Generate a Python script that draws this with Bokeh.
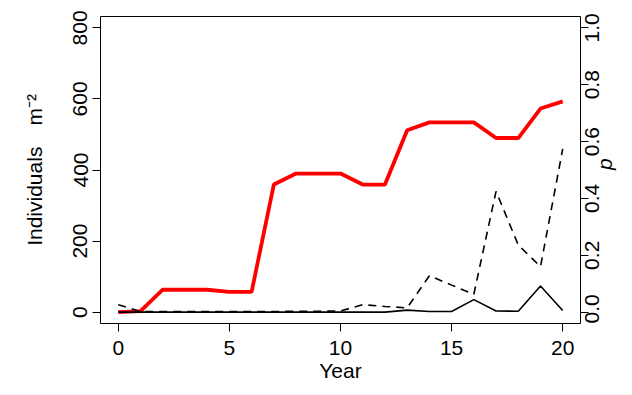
from bokeh.plotting import figure
from bokeh.models import Range1d, LinearAxis, FixedTicker, AllLabels
from bokeh.embed import file_html
from bokeh.resources import INLINE
import math

years = list(range(0, 21))
density = [0, 3, 63, 63, 63, 57, 57, 359, 390, 390, 390, 359, 359, 512, 534, 534, 534, 490, 490, 573, 593]
p_dashed = [0.026, 0.002, 0.002, 0.002, 0.002, 0.002, 0.002, 0.002, 0.003, 0.003, 0.004, 0.026, 0.02, 0.015,
            0.128, 0.095, 0.063, 0.425, 0.236, 0.16, 0.574]
p_solid = [0, 0, 0, 0, 0, 0, 0, 0, 0, 0, 0, 0, 0, 0.007, 0.002, 0.002, 0.044, 0.004, 0.003, 0.092, 0.006]

x_ticks = [0, 5, 10, 15, 20]
y_ticks = [0, 200, 400, 600, 800]
p_ticks = [0.0, 0.2, 0.4, 0.6, 0.8, 1.0]
x_title = "Year"
y_title = "Individuals\u2003m\u207b\u00b2"
p_title = "p"

FONT = "Liberation Sans"
FS = "21px"
P_START, P_END = -0.04, 1.04
FRAME_H = 307
# rotated right-axis labels start at their anchor; shift anchors by half a label's length
half_label = 14.6 * (P_END - P_START) / FRAME_H

p = figure(width=632, height=395, output_backend="svg", toolbar_location=None,
           x_range=Range1d(-0.8, 20.8), y_range=Range1d(-32, 832),
           min_border_left=100, min_border_right=52, min_border_top=16, min_border_bottom=72)
p.extra_y_ranges = {"p": Range1d(P_START, P_END)}
p.grid.visible = False
p.outline_line_color = "black"
p.outline_line_width = 1
p.background_fill_color = "white"
p.border_fill_color = "white"

xax = p.xaxis[0]
lax = p.yaxis[0]

# right axis: tick marks only
tax = LinearAxis(y_range_name="p", ticker=FixedTicker(ticks=p_ticks),
                 major_label_overrides={t: "" for t in p_ticks})
p.add_layout(tax, "right")
# right axis: tick labels (centred on the ticks) and the italic title
anchors = [max(t - half_label, P_START + 0.0001) for t in p_ticks]
rax = LinearAxis(y_range_name="p", ticker=FixedTicker(ticks=anchors),
                 major_label_overrides={a: "%.1f" % t for a, t in zip(anchors, p_ticks)})
p.add_layout(rax, "right")

for ax in [xax, lax, tax, rax]:
    ax.axis_line_color = None
    ax.major_tick_line_color = "black"
    ax.major_tick_in = 0
    ax.major_tick_out = 8
    ax.minor_tick_line_color = None
    ax.major_label_text_font = FONT
    ax.major_label_text_font_size = FS
    ax.major_label_text_color = "black"
    ax.major_label_policy = AllLabels()
    ax.axis_label_text_font = FONT
    ax.axis_label_text_font_size = FS
    ax.axis_label_text_color = "black"
    ax.axis_label_text_font_style = "normal"

xax.ticker = FixedTicker(ticks=x_ticks)
xax.major_label_standoff = 9
xax.axis_label = x_title
xax.axis_label_standoff = 1

lax.ticker = FixedTicker(ticks=y_ticks)
lax.major_label_orientation = "vertical"
lax.major_label_standoff = 5
lax.axis_label = y_title
lax.axis_label_standoff = 25

tax.major_label_text_font_size = "0px"
tax.major_label_standoff = 0

rax.major_tick_out = 0
rax.major_tick_line_color = None
rax.major_label_standoff = 4
rax.major_label_orientation = math.pi / 2
rax.axis_label = p_title
rax.axis_label_text_font_style = "italic"
rax.axis_label_standoff = -5
if "axis_label_orientation" in rax.properties():
    rax.axis_label_orientation = math.pi / 2

p.line(years, density, line_color="#FF0000", line_width=3.8)
p.line(years, p_dashed, y_range_name="p", line_color="black", line_width=1.6, line_dash="8 6")
p.line(years, p_solid, y_range_name="p", line_color="black", line_width=1.6)

open("out.html", "w").write(file_html(p, INLINE))
